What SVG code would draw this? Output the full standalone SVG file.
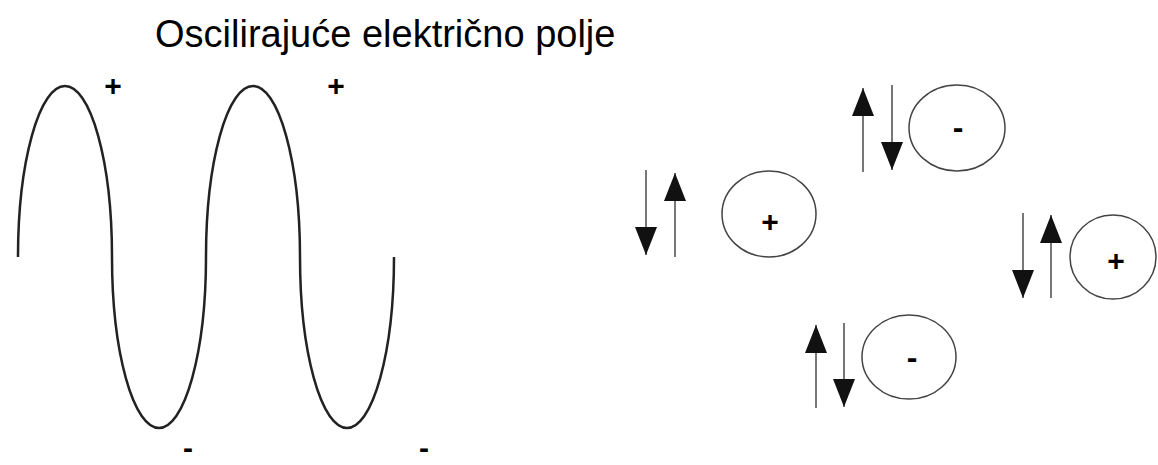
<svg xmlns="http://www.w3.org/2000/svg" width="1158" height="465" viewBox="0 0 1158 465">
<style>
.title{font-family:"Liberation Sans",Arial,sans-serif;font-size:38px;fill:#000}
.sign{font-family:"Liberation Sans",Arial,sans-serif;font-weight:bold;font-size:30px;fill:#000;text-anchor:middle}
.minus{font-size:32px}
.wminus{font-size:30px}
.wave{fill:none;stroke:#222;stroke-width:2.5}
.orb{fill:#fff;stroke:#444;stroke-width:1.5}
.arr{stroke:#777;stroke-width:2;fill:none;marker-end:url(#head)}
</style>
<defs>
<marker id="head" markerUnits="userSpaceOnUse" viewBox="0 0 28 22" markerWidth="28" markerHeight="22" refX="28" refY="11" orient="auto">
<path d="M0,0 L28,11 L0,22 Z" fill="#111"/>
</marker>
</defs>
<rect width="1158" height="465" fill="#fff"/>
<text class="title" x="155" y="47">Oscilirajuće električno polje</text>
<g id="wave">
<path class="wave" d="M18,257 A47,171 0 0 1 112,257 A47,171 0 0 0 206,257 A47,171 0 0 1 300,257 A47,171 0 0 0 394,257"/>
<text class="sign" x="113" y="96">+</text>
<text class="sign" x="336" y="96">+</text>
<text class="sign wminus" x="188" y="458">-</text>
<text class="sign wminus" x="424" y="458">-</text>
</g>
<g id="charge-plus-left">
<ellipse class="orb" cx="769" cy="214" rx="47" ry="43"/>
<text class="sign" x="770" y="232">+</text>
</g>
<g id="charge-minus-top">
<ellipse class="orb" cx="957" cy="128" rx="48" ry="43"/>
<text class="sign minus" x="958" y="138">-</text>
</g>
<g id="charge-plus-right">
<ellipse class="orb" cx="1113" cy="257" rx="43" ry="42"/>
<text class="sign" x="1116" y="271">+</text>
</g>
<g id="charge-minus-bottom">
<ellipse class="orb" cx="909" cy="357" rx="47" ry="42"/>
<text class="sign minus" x="912" y="368">-</text>
</g>
<g id="connectors">
<line class="arr" x1="646" y1="170" x2="646" y2="255"/>
<line class="arr" x1="675" y1="257" x2="675" y2="173"/>
<line class="arr" x1="863" y1="172" x2="863" y2="88"/>
<line class="arr" x1="892" y1="85" x2="892" y2="170"/>
<line class="arr" x1="816" y1="408" x2="816" y2="325"/>
<line class="arr" x1="844" y1="323" x2="844" y2="407"/>
<line class="arr" x1="1023" y1="213" x2="1023" y2="298"/>
<line class="arr" x1="1051" y1="298" x2="1051" y2="215"/>
</g>
</svg>
